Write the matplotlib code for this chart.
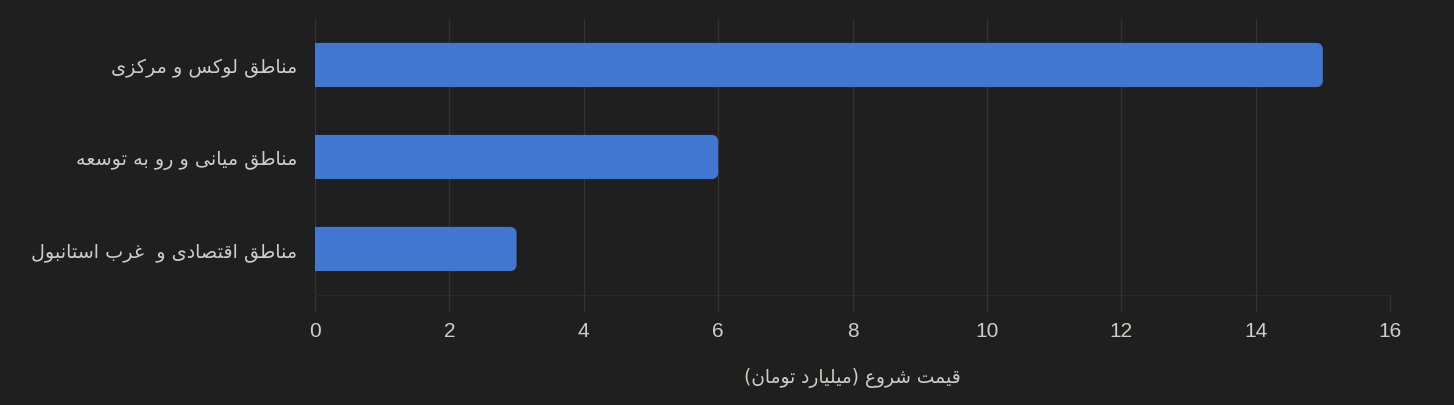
import matplotlib
matplotlib.use('Agg')
import matplotlib.pyplot as plt
from matplotlib.path import Path
from matplotlib.patches import PathPatch

# داده‌ها
categories = ['مناطق لوکس و مرکزی', 'مناطق میانی و رو به توسعه', 'مناطق اقتصادی و  غرب استانبول']
prices = [15, 6, 3]
x_ticks = [0, 2, 4, 6, 8, 10, 12, 14, 16]
x_label = 'قیمت شروع (میلیارد تومان)'

BG = '#1f1f1f'
GRID = '#333333'
TEXT = '#cdcdc8'
BAR = '#4177d1'

# اشکال حروف: (مستقل، پایانی، آغازین، میانی)
FORMS = {
    'ا': ('\uFE8D', '\uFE8E', None, None),
    'ب': ('\uFE8F', '\uFE90', '\uFE91', '\uFE92'),
    'ت': ('\uFE95', '\uFE96', '\uFE97', '\uFE98'),
    'د': ('\uFEA9', '\uFEAA', None, None),
    'ر': ('\uFEAD', '\uFEAE', None, None),
    'ز': ('\uFEAF', '\uFEB0', None, None),
    'س': ('\uFEB1', '\uFEB2', '\uFEB3', '\uFEB4'),
    'ش': ('\uFEB5', '\uFEB6', '\uFEB7', '\uFEB8'),
    'ص': ('\uFEB9', '\uFEBA', '\uFEBB', '\uFEBC'),
    'ط': ('\uFEC1', '\uFEC2', '\uFEC3', '\uFEC4'),
    'ع': ('\uFEC9', '\uFECA', '\uFECB', '\uFECC'),
    'غ': ('\uFECD', '\uFECE', '\uFECF', '\uFED0'),
    'ق': ('\uFED5', '\uFED6', '\uFED7', '\uFED8'),
    'ل': ('\uFEDD', '\uFEDE', '\uFEDF', '\uFEE0'),
    'م': ('\uFEE1', '\uFEE2', '\uFEE3', '\uFEE4'),
    'ن': ('\uFEE5', '\uFEE6', '\uFEE7', '\uFEE8'),
    'ه': ('\uFEE9', '\uFEEA', '\uFEEB', '\uFEEC'),
    'و': ('\uFEED', '\uFEEE', None, None),
    'ک': ('\uFB8E', '\uFB8F', '\uFB90', '\uFB91'),
    'ی': ('\uFBFC', '\uFBFD', '\uFBFE', '\uFBFF'),
}


def shape_rtl(text):
    """شکل‌دهی ساده حروف فارسی و برعکس کردن ترتیب برای نمایش"""
    out = []
    n = len(text)
    for i, ch in enumerate(text):
        if ch not in FORMS:
            out.append(ch)
            continue
        prev = text[i - 1] if i > 0 else ''
        nxt = text[i + 1] if i < n - 1 else ''
        joins_prev = prev in FORMS and FORMS[prev][2] is not None
        joins_next = FORMS[ch][2] is not None and nxt in FORMS
        iso, fin, ini, med = FORMS[ch]
        if joins_prev and joins_next:
            out.append(med)
        elif joins_prev:
            out.append(fin)
        elif joins_next:
            out.append(ini)
        else:
            out.append(iso)
    vis = ''.join(reversed(out))
    return vis.translate(str.maketrans('()', ')('))


plt.rcParams['font.family'] = ['DejaVu Sans']

fig = plt.figure(figsize=(14.54, 4.06), dpi=100, facecolor=BG)
ax = fig.add_axes([315 / 1454, 110 / 406, 1075 / 1454, 276 / 406])
ax.set_facecolor(BG)

ypos = list(range(len(categories)))
bars = ax.barh(ypos, prices, height=0.48, color=BAR)
ax.set_xlim(0, 16)
ax.set_ylim(len(categories) - 0.5, -0.5)

# گوشه‌های گرد سمت راست
rx = 6 * 16 / 1075
ry = 6 * 3 / 276
k = 0.5523
for rect in bars:
    x0, y0 = rect.get_x(), rect.get_y()
    x1, y1 = x0 + rect.get_width(), y0 + rect.get_height()
    verts = [(x0, y0), (x1 - rx, y0),
             (x1 - rx + k * rx, y0), (x1, y0 + ry - k * ry), (x1, y0 + ry),
             (x1, y1 - ry),
             (x1, y1 - ry + k * ry), (x1 - rx + k * rx, y1), (x1 - rx, y1),
             (x0, y1), (x0, y0)]
    codes = [Path.MOVETO, Path.LINETO,
             Path.CURVE4, Path.CURVE4, Path.CURVE4,
             Path.LINETO,
             Path.CURVE4, Path.CURVE4, Path.CURVE4,
             Path.LINETO, Path.CLOSEPOLY]
    rect.set_visible(False)
    ax.add_patch(PathPatch(Path(verts, codes), facecolor=BAR, edgecolor='none', zorder=3))

ax.set_xticks(x_ticks)
ax.set_xticklabels([str(t) for t in x_ticks], fontsize=15, color=TEXT,
                   family='Liberation Sans')
ax.set_yticks(ypos)
ax.set_yticklabels([shape_rtl(c) for c in categories], fontsize=13.8, color=TEXT)
ax.tick_params(axis='x', length=12, width=1, color=GRID, pad=7)
ax.tick_params(axis='y', length=0, pad=13)

ax.grid(axis='x', color=GRID, linewidth=1)
ax.set_axisbelow(True)
for side in ['top', 'right', 'left']:
    ax.spines[side].set_visible(False)
ax.spines['bottom'].set_color('#2a2a2a')

ax.set_xlabel(shape_rtl(x_label), fontsize=13.4, color=TEXT, labelpad=19)

plt.savefig('out.png', dpi=100, facecolor=BG)
